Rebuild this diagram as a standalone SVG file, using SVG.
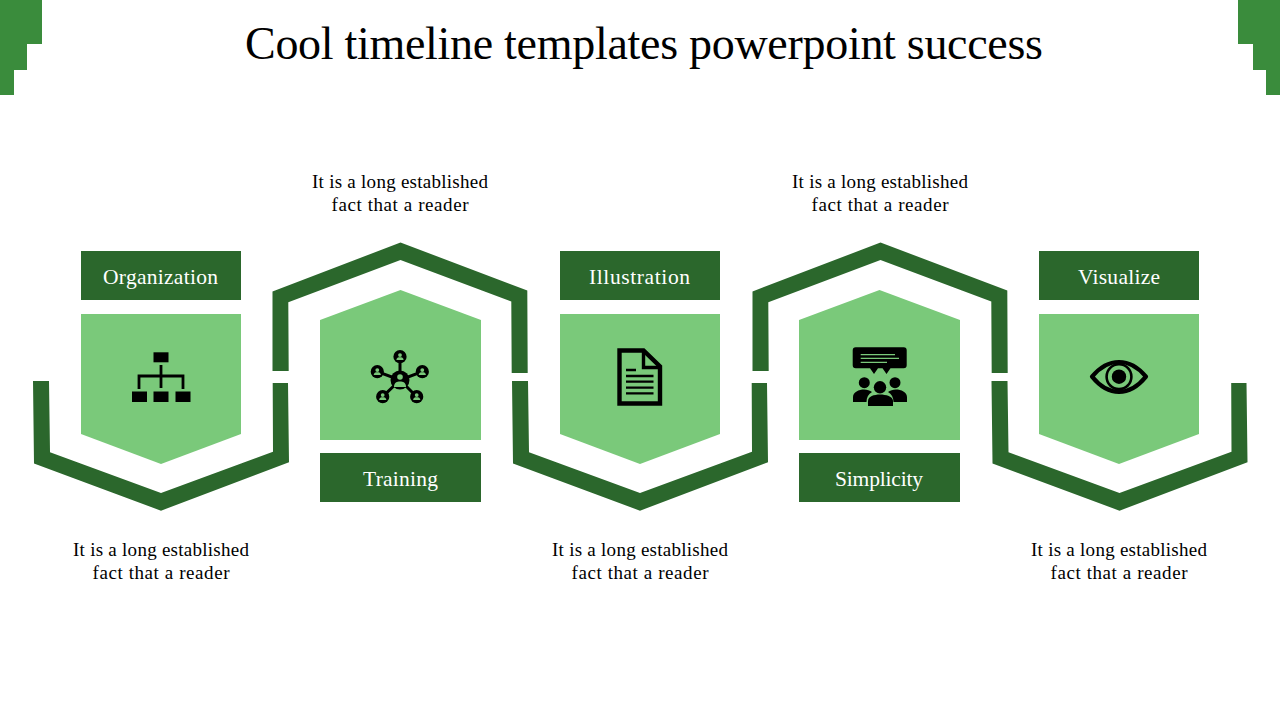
<svg xmlns="http://www.w3.org/2000/svg" width="1280" height="720" viewBox="0 0 1280 720">
<style>
text{font-family:"Liberation Serif","Times New Roman",serif;text-anchor:middle}
.title{font-size:46px;fill:#000}
.lab{font-size:21.5px;fill:#fff}
.body{font-size:19px;fill:#000}
.frame{fill:#2b672c}
.fill{fill:#7ac97a}
.box{fill:#2b672c}
.corner{fill:#3a8c3c}
.k{fill:#000}
.ks{fill:none;stroke:#000}
.g{fill:#7ac97a}
.gs{fill:none;stroke:#7ac97a}
</style>
<defs>
<path id="fbottom" d="M33 381H49L50 452.300L161 493L273 451.700L272.700 383H288L289 462.300L161 510.700L34 463.500Z"/>
<path id="ftop" d="M272.500 371V291.500L400.500 242.500L527.300 290.500L527.700 373H511.700L511.300 301.500L400.500 260L288.300 302.300L288.700 371Z"/>
<g id="mini"><circle r="6.600" class="k"/><circle cy="-1.600" r="1.900" class="g"/><path class="g" d="M-3.600 3.400C-3.600 .9-1.800 .5 0 .5S3.600 .9 3.600 3.400Z"/></g>
</defs>
<g id="corners">
<path class="corner" d="M0 0H42V44H27V70H14V95H0Z"/>
<path class="corner" d="M1280 0H1238V44H1253V70H1266V95H1280Z"/>
</g>
<text id="title" class="title" x="644" y="59" textLength="798" lengthAdjust="spacing">Cool timeline templates powerpoint success</text>
<g id="connectors">
<use href="#fbottom" class="frame"/>
<use href="#ftop" class="frame"/>
<use href="#fbottom" x="479" class="frame"/>
<use href="#ftop" x="480" class="frame"/>
<use href="#fbottom" x="958.500" class="frame"/>
</g>
<g id="node-organization">
<rect class="box" x="81" y="251" width="160" height="49"/>
<text class="lab" x="160.500" y="284" textLength="115">Organization</text>
<path class="fill" d="M81 314H241V434L161 464L81 434Z"/>
<rect class="k" x="153.500" y="352.300" width="15" height="10"/>
<path class="ks" stroke-width="2.800" d="M161 365V388M139 389V376H183V389"/>
<rect class="k" x="132" y="391.500" width="15" height="10.500"/>
<rect class="k" x="153.500" y="391.500" width="15" height="10.500"/>
<rect class="k" x="175.500" y="391.500" width="15" height="10.500"/>
<text class="body" x="161" y="556" textLength="176">It is a long established</text>
<text class="body" x="161" y="579" textLength="137">fact that a reader</text>
</g>
<g id="node-training">
<path class="fill" d="M320 320L400.500 290L481 320V440H320Z"/>
<rect class="box" x="320" y="453" width="161" height="49"/>
<text class="lab" x="400.500" y="486" textLength="75">Training</text>
<path class="ks" stroke-width="3" d="M400 380V357M400 380L377.300 371.700M400 380L422.300 371.700M400 380L382.700 396.700M400 380L416.700 396.700"/>
<use href="#mini" x="400" y="356.700"/>
<use href="#mini" x="377.300" y="371.700"/>
<use href="#mini" x="422.300" y="371.700"/>
<use href="#mini" x="382.700" y="396.700"/>
<use href="#mini" x="416.700" y="396.700"/>
<circle class="k" cx="400" cy="380" r="9.500"/>
<circle class="g" cx="400" cy="377" r="2.800"/>
<path class="g" d="M394 387C394 382.500 397 381.500 400 381.500S406 382.500 406 387Z"/>
<text class="body" x="400" y="188" textLength="176">It is a long established</text>
<text class="body" x="400" y="211" textLength="137">fact that a reader</text>
</g>
<g id="node-illustration">
<rect class="box" x="560" y="251" width="160" height="49"/>
<text class="lab" x="639.500" y="284" textLength="101">Illustration</text>
<path class="fill" d="M560 314H720V434L640 464L560 434Z"/>
<path class="ks" stroke-width="4.400" d="M619.500 350.500H643.500L660 366.500V403.500H619.500Z"/>
<path class="ks" stroke-width="3.400" d="M643.500 350V367.500H660"/>
<path class="ks" stroke-width="2.300" d="M626 370H636M626 376H653.500M626 381.700H653.500M626 387.700H653.500M626 393.300H653.500"/>
<text class="body" x="640" y="556" textLength="176">It is a long established</text>
<text class="body" x="640" y="579" textLength="137">fact that a reader</text>
</g>
<g id="node-simplicity">
<path class="fill" d="M799 320L879.500 290L960 320V440H799Z"/>
<rect class="box" x="799" y="453" width="161" height="49"/>
<text class="lab" x="879" y="486" textLength="88">Simplicity</text>
<path class="k" d="M855.700 347.300H903.700A3 3 0 0 1 906.700 350.300V365.300A3 3 0 0 1 903.700 368.300H890.500L886.500 374L882.500 368.300H878L874 374L870 368.300H855.700A3 3 0 0 1 852.700 365.300V350.300A3 3 0 0 1 855.700 347.300Z"/>
<path class="gs" stroke-width="1.300" d="M860.700 354.700H895M860.700 358.300H899M860.700 362.300H887"/>
<circle class="k" cx="864.300" cy="382.700" r="5.500"/>
<circle class="k" cx="895" cy="382.700" r="5.500"/>
<path class="k" d="M853 402V397C853 392 859 389.500 864 389.500C867 389.500 870 390.500 872 392C868.500 394 866.500 397.500 866.500 402Z"/>
<path class="k" d="M907 402V397C907 392 901 389.500 896 389.500C893 389.500 890 390.500 888 392C891.500 394 893.500 397.500 893.500 402Z"/>
<circle class="k" cx="880" cy="387.300" r="6.200"/>
<path class="k" d="M868 406V401C868 396.500 874 394.500 880 394.500S893 396.500 893 401V406Z"/>
<text class="body" x="880" y="188" textLength="176">It is a long established</text>
<text class="body" x="880" y="211" textLength="137">fact that a reader</text>
</g>
<g id="node-visualize">
<rect class="box" x="1039" y="251" width="160" height="49"/>
<text class="lab" x="1119" y="284" textLength="82">Visualize</text>
<path class="fill" d="M1039 314H1199V434L1119 464L1039 434Z"/>
<path class="ks" stroke-width="4.200" stroke-linejoin="round" d="M1092 376.700C1100 367 1109 362 1119 362S1138 367 1146 376.700C1138 386.500 1129 392 1119 392S1100 386.500 1092 376.700Z"/>
<circle class="ks" stroke-width="2.600" cx="1119" cy="376.700" r="12.400"/>
<circle class="k" cx="1119" cy="376.700" r="7.200"/>
<text class="body" x="1119" y="556" textLength="176">It is a long established</text>
<text class="body" x="1119" y="579" textLength="137">fact that a reader</text>
</g>
</svg>
